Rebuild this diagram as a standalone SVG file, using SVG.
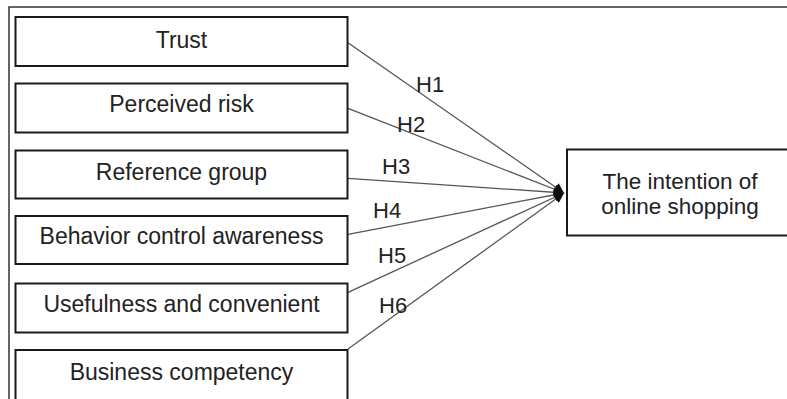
<svg xmlns="http://www.w3.org/2000/svg" width="787" height="399" viewBox="0 0 787 399">
<defs>
<style>
.box{fill:#fff;stroke:#1a1a1a;stroke-width:2}
.lbl{font-family:"Liberation Sans",Arial,sans-serif;font-size:23px;fill:#222;text-anchor:middle}
.tgt{font-family:"Liberation Sans",Arial,sans-serif;font-size:22.5px;fill:#222;text-anchor:middle}
.h{font-family:"Liberation Sans",Arial,sans-serif;font-size:22px;fill:#222}
.con{stroke:#555;stroke-width:1.3;fill:none;marker-end:url(#ah)}
</style>
<marker id="ah" viewBox="0 0 10 10" refX="10" refY="5" markerWidth="12" markerHeight="10" markerUnits="userSpaceOnUse" orient="auto">
<path d="M0,0 L10,5 L0,10 z" fill="#111"/>
</marker>
</defs>
<rect width="787" height="399" fill="#fff"/>
<path d="M9,399 V7 H787" fill="none" stroke="#333" stroke-width="1.5"/>
<g id="connectors">
<line class="con" x1="348" y1="42.7" x2="564" y2="193"/>
<line class="con" x1="348" y1="108.3" x2="564" y2="193"/>
<line class="con" x1="348" y1="178.3" x2="564" y2="193"/>
<line class="con" x1="348" y1="234.3" x2="564" y2="193"/>
<line class="con" x1="348" y1="292.3" x2="564" y2="193"/>
<line class="con" x1="348" y1="349" x2="564" y2="193"/>
<text class="h" x="416" y="91.7">H1</text>
<text class="h" x="397" y="131.5">H2</text>
<text class="h" x="382" y="174.3">H3</text>
<text class="h" x="373" y="217.7">H4</text>
<text class="h" x="378" y="262.5">H5</text>
<text class="h" x="379" y="312.7">H6</text>
</g>
<g id="trust">
<rect class="box" x="15.5" y="17" width="332" height="49"/>
<text class="lbl" x="181.5" y="48.3">Trust</text>
</g>
<g id="perceived-risk">
<rect class="box" x="15.5" y="83.5" width="332" height="49"/>
<text class="lbl" x="181.5" y="112">Perceived risk</text>
</g>
<g id="reference-group">
<rect class="box" x="15.5" y="150.5" width="332" height="48"/>
<text class="lbl" x="181.5" y="180">Reference group</text>
</g>
<g id="behavior-control">
<rect class="box" x="15.5" y="216" width="332" height="48"/>
<text class="lbl" x="181.5" y="244.3">Behavior control awareness</text>
</g>
<g id="usefulness">
<rect class="box" x="15.5" y="283.5" width="332" height="49"/>
<text class="lbl" x="181.5" y="312.3">Usefulness and convenient</text>
</g>
<g id="business-competency">
<rect class="box" x="15.5" y="350" width="332" height="60"/>
<text class="lbl" x="181.5" y="380">Business competency</text>
</g>
<g id="intention">
<rect class="box" x="567" y="149.5" width="230" height="86"/>
<text class="tgt" x="680" y="189">The intention of</text>
<text class="tgt" x="680" y="214">online shopping</text>
</g>
</svg>
